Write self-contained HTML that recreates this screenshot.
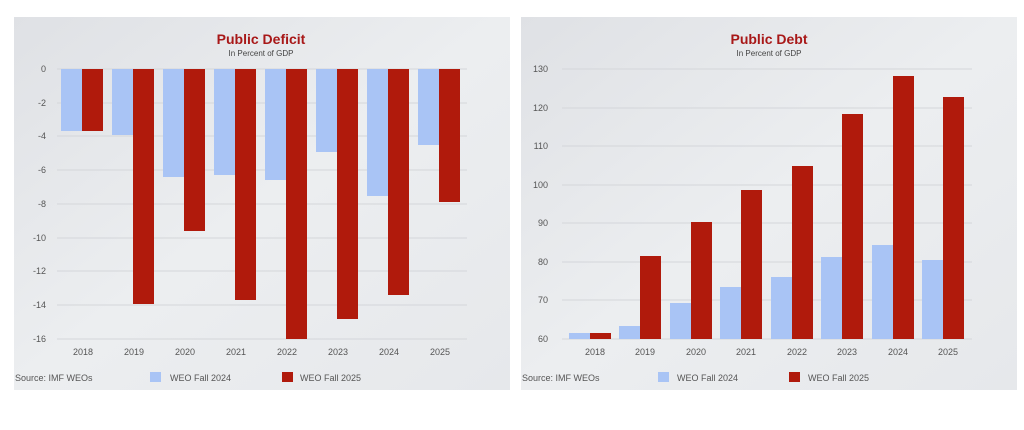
<!DOCTYPE html>
<html><head><meta charset="utf-8"><style>
body{margin:0;background:#fff;width:1024px;height:430px;overflow:hidden}
svg{display:block}
text{font-family:"Liberation Sans",sans-serif}
</style></head><body>
<svg width="1024" height="430" viewBox="0 0 1024 430">
<defs><linearGradient id="g" x1="0" y1="0" x2="1" y2="1"><stop offset="0" stop-color="#dfe1e5"/><stop offset="0.5" stop-color="#eceef0"/><stop offset="1" stop-color="#e6e8eb"/></linearGradient></defs>
<rect x="14" y="17" width="496" height="373" fill="url(#g)"/>
<rect x="521" y="17" width="496" height="373" fill="url(#g)"/>
<!-- Left -->
<text x="261" y="44" text-anchor="middle" font-size="14" font-weight="bold" fill="#a81818">Public Deficit</text>
<text x="261" y="56" text-anchor="middle" font-size="8" fill="#444" font-family="Liberation Serif">In Percent of GDP</text>
<g stroke="#d4d6da" stroke-width="1">
<line x1="57" x2="467" y1="69" y2="69"/><line x1="57" x2="467" y1="103" y2="103"/><line x1="57" x2="467" y1="136" y2="136"/><line x1="57" x2="467" y1="170" y2="170"/><line x1="57" x2="467" y1="204" y2="204"/><line x1="57" x2="467" y1="238" y2="238"/><line x1="57" x2="467" y1="271" y2="271"/><line x1="57" x2="467" y1="305" y2="305"/><line x1="57" x2="467" y1="339" y2="339"/>
</g>
<g font-size="9" fill="#555" text-anchor="end">
<text x="46" y="72">0</text><text x="46" y="106">-2</text><text x="46" y="139">-4</text><text x="46" y="173">-6</text><text x="46" y="207">-8</text><text x="46" y="241">-10</text><text x="46" y="274">-12</text><text x="46" y="308">-14</text><text x="46" y="342">-16</text>
</g>
<g fill="#a9c4f5">
<rect x="61" y="69" width="21" height="62"/><rect x="112" y="69" width="21" height="66"/><rect x="163" y="69" width="21" height="108"/><rect x="214" y="69" width="21" height="106"/><rect x="265" y="69" width="21" height="111"/><rect x="316" y="69" width="21" height="83"/><rect x="367" y="69" width="21" height="127"/><rect x="418" y="69" width="21" height="76"/>
</g>
<g fill="#b01a0c">
<rect x="82" y="69" width="21" height="62"/><rect x="133" y="69" width="21" height="235"/><rect x="184" y="69" width="21" height="162"/><rect x="235" y="69" width="21" height="231"/><rect x="286" y="69" width="21" height="270"/><rect x="337" y="69" width="21" height="250"/><rect x="388" y="69" width="21" height="226"/><rect x="439" y="69" width="21" height="133"/>
</g>
<g font-size="9" fill="#555" text-anchor="middle">
<text x="83" y="355">2018</text><text x="134" y="355">2019</text><text x="185" y="355">2020</text><text x="236" y="355">2021</text><text x="287" y="355">2022</text><text x="338" y="355">2023</text><text x="389" y="355">2024</text><text x="440" y="355">2025</text>
</g>
<text x="15" y="381" font-size="9" fill="#555">Source: IMF WEOs</text>
<rect x="150" y="372" width="11" height="10" fill="#a9c4f5"/><text x="170" y="381" font-size="9" fill="#555">WEO Fall 2024</text>
<rect x="282" y="372" width="11" height="10" fill="#b01a0c"/><text x="300" y="381" font-size="9" fill="#555">WEO Fall 2025</text>
<!-- Right -->
<text x="769" y="44" text-anchor="middle" font-size="14" font-weight="bold" fill="#a81818">Public Debt</text>
<text x="769" y="56" text-anchor="middle" font-size="8" fill="#444" font-family="Liberation Serif">In Percent of GDP</text>
<g stroke="#d4d6da" stroke-width="1">
<line x1="562" x2="972" y1="69" y2="69"/><line x1="562" x2="972" y1="108" y2="108"/><line x1="562" x2="972" y1="146" y2="146"/><line x1="562" x2="972" y1="185" y2="185"/><line x1="562" x2="972" y1="223" y2="223"/><line x1="562" x2="972" y1="262" y2="262"/><line x1="562" x2="972" y1="300" y2="300"/><line x1="562" x2="972" y1="339" y2="339"/>
</g>
<g font-size="9" fill="#555" text-anchor="end">
<text x="548" y="72">130</text><text x="548" y="111">120</text><text x="548" y="149">110</text><text x="548" y="188">100</text><text x="548" y="226">90</text><text x="548" y="265">80</text><text x="548" y="303">70</text><text x="548" y="342">60</text>
</g>
<g fill="#a9c4f5">
<rect x="569" y="333" width="21" height="6"/><rect x="619" y="326" width="21" height="13"/><rect x="670" y="303" width="21" height="36"/><rect x="720" y="287" width="21" height="52"/><rect x="771" y="277" width="21" height="62"/><rect x="821" y="257" width="21" height="82"/><rect x="872" y="245" width="21" height="94"/><rect x="922" y="260" width="21" height="79"/>
</g>
<g fill="#b01a0c">
<rect x="590" y="333" width="21" height="6"/><rect x="640" y="256" width="21" height="83"/><rect x="691" y="222" width="21" height="117"/><rect x="741" y="190" width="21" height="149"/><rect x="792" y="166" width="21" height="173"/><rect x="842" y="114" width="21" height="225"/><rect x="893" y="76" width="21" height="263"/><rect x="943" y="97" width="21" height="242"/>
</g>
<g font-size="9" fill="#555" text-anchor="middle">
<text x="595" y="355">2018</text><text x="645" y="355">2019</text><text x="696" y="355">2020</text><text x="746" y="355">2021</text><text x="797" y="355">2022</text><text x="847" y="355">2023</text><text x="898" y="355">2024</text><text x="948" y="355">2025</text>
</g>
<text x="522" y="381" font-size="9" fill="#555">Source: IMF WEOs</text>
<rect x="658" y="372" width="11" height="10" fill="#a9c4f5"/><text x="677" y="381" font-size="9" fill="#555">WEO Fall 2024</text>
<rect x="789" y="372" width="11" height="10" fill="#b01a0c"/><text x="808" y="381" font-size="9" fill="#555">WEO Fall 2025</text>
</svg>
</body></html>
